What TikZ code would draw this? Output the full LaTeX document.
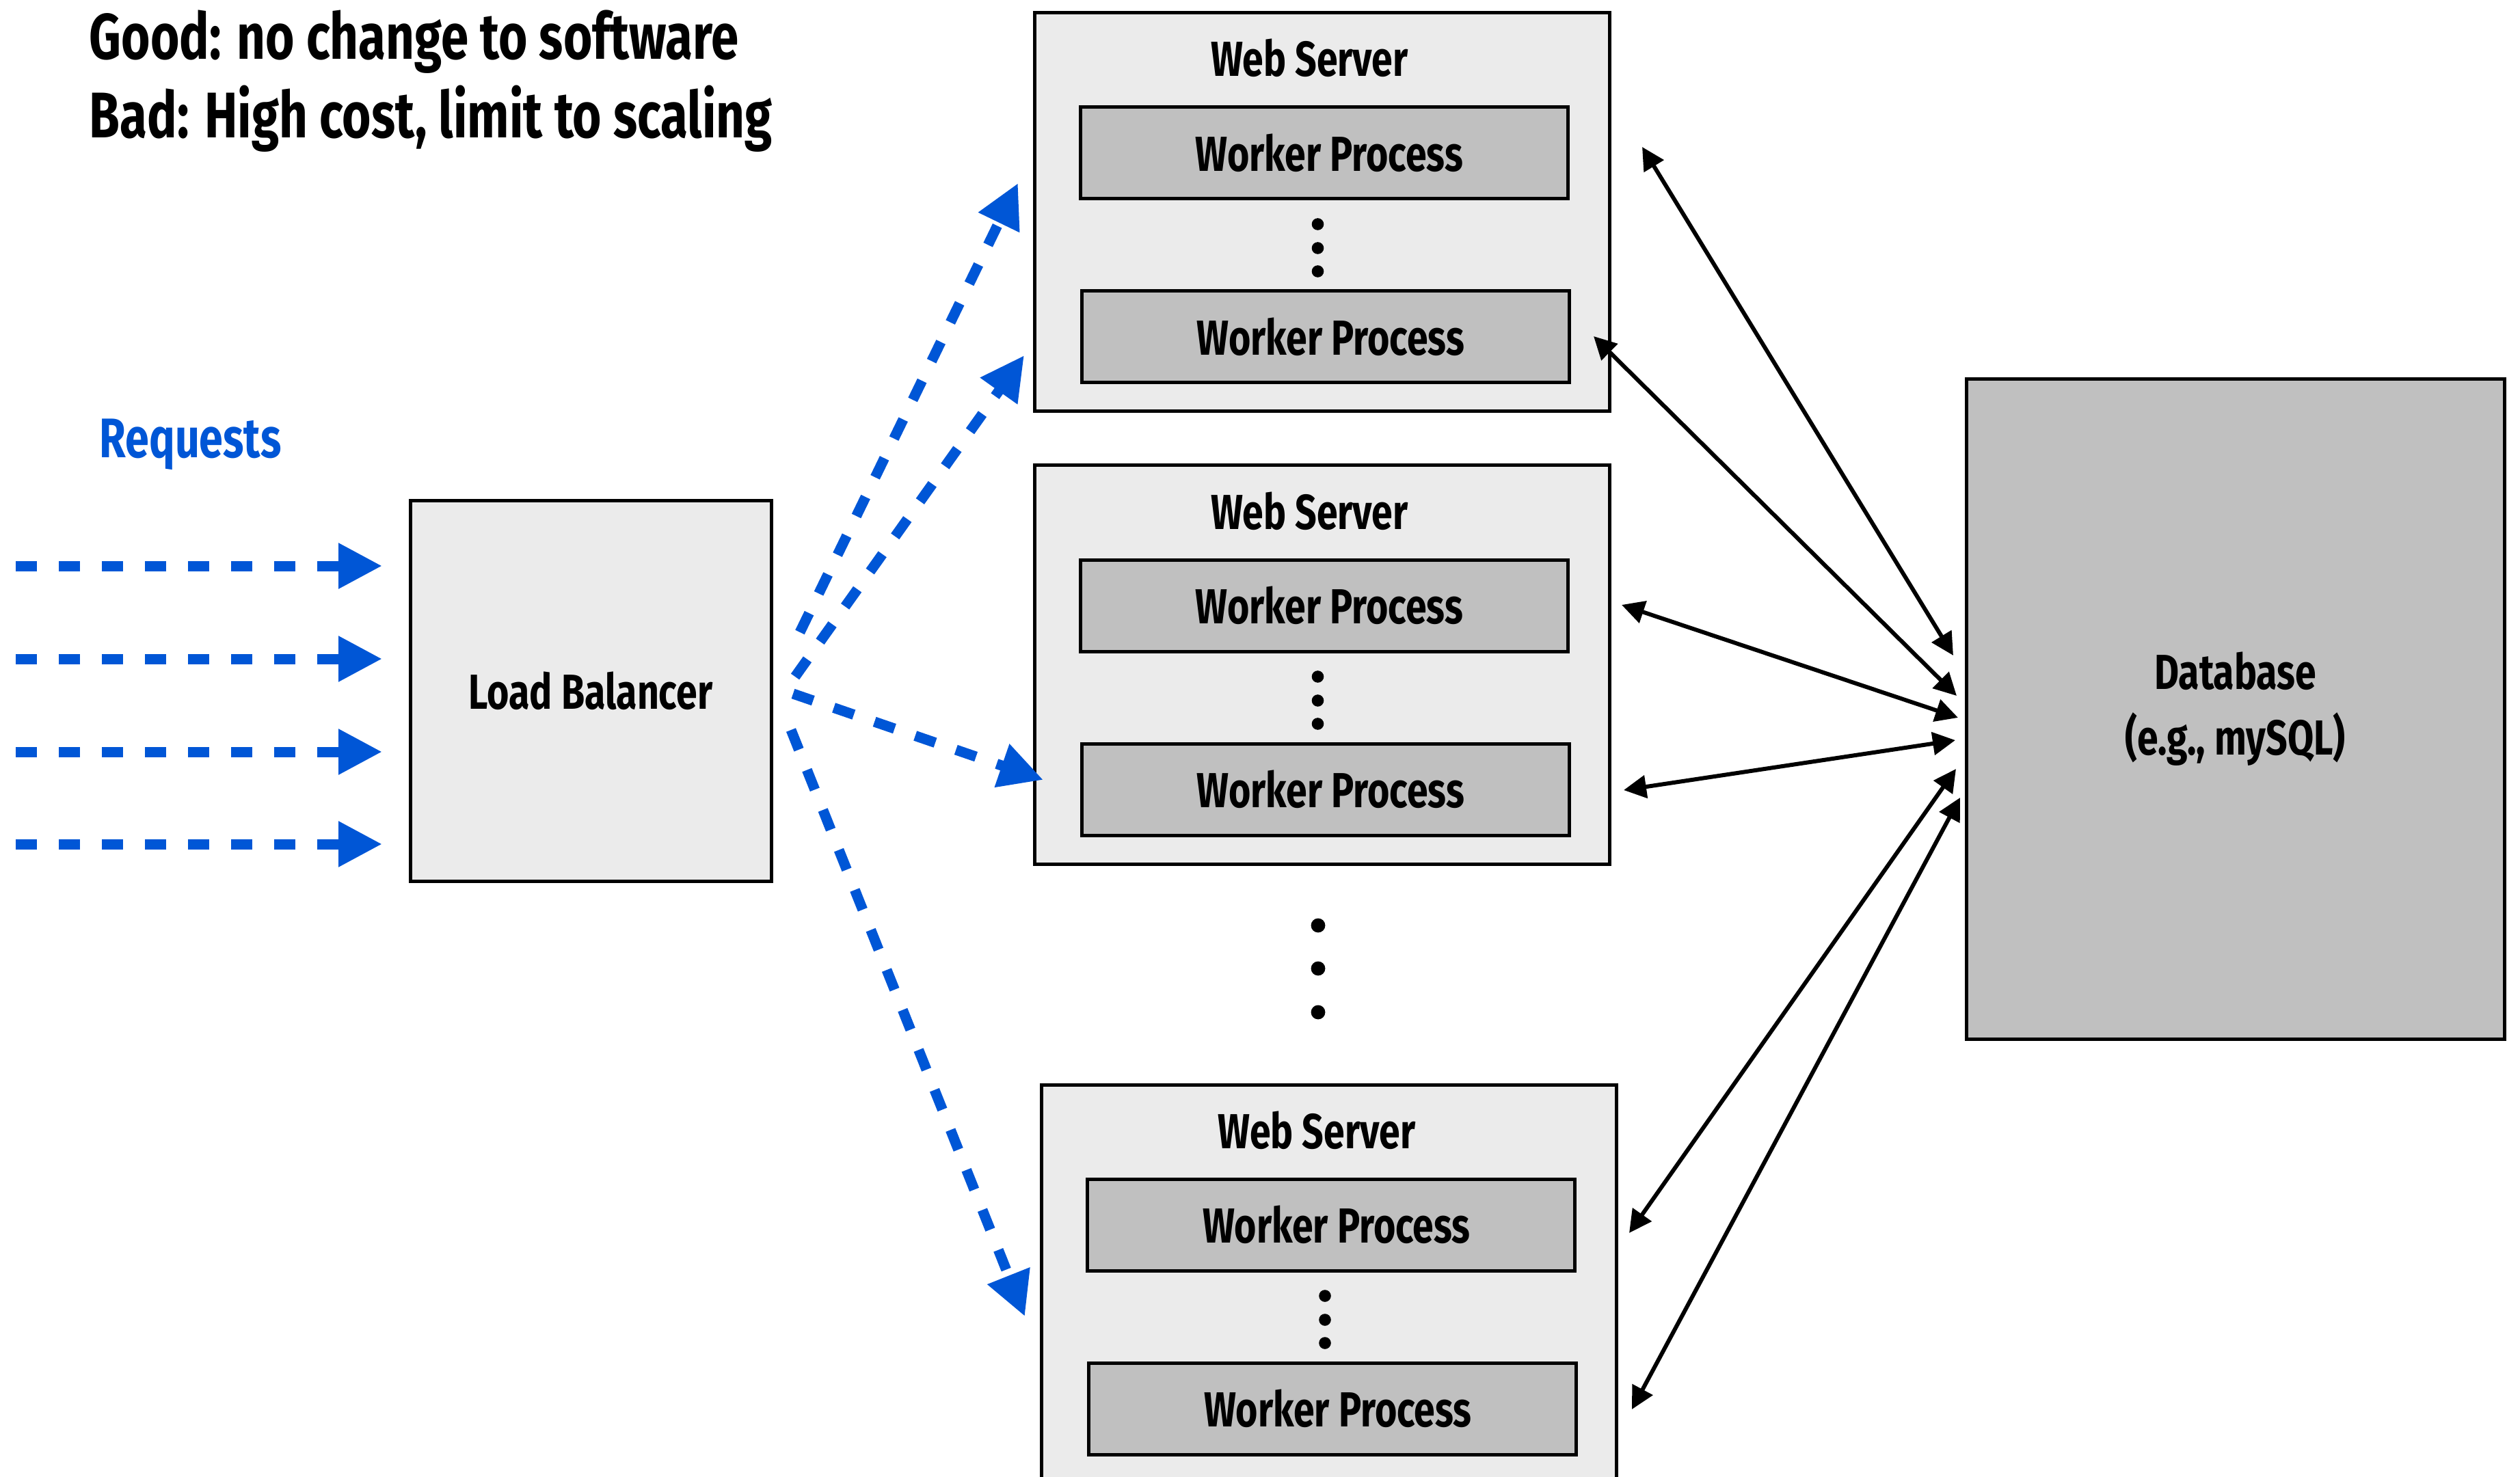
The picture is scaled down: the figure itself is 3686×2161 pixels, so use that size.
\documentclass[tikz,border=0pt]{standalone}
\usepackage{fontspec}
\setmainfont{Fira Sans}[FakeStretch=0.77]
\usetikzlibrary{arrows.meta}
\definecolor{reqblue}{RGB}{0,86,214}
\definecolor{lightbox}{RGB}{235,235,235}
\definecolor{darkbox}{RGB}{192,192,192}
\begin{document}
\begin{tikzpicture}[x=0.25pt,y=-0.25pt,
  lbl/.style={font=\bfseries\fontsize{18pt}{24pt}\selectfont, inner sep=0pt},
  server/.style={draw=black, line width=1.25pt, fill=lightbox, minimum width=210.25pt, minimum height=145.75pt, inner sep=0pt},
  worker/.style={draw=black, line width=1.25pt, fill=darkbox, minimum width=178.25pt, minimum height=33.5pt, inner sep=0pt, font=\bfseries\fontsize{18pt}{24pt}\selectfont},
  plainbox/.style={draw=black, line width=1.25pt, inner sep=0pt, font=\bfseries\fontsize{18pt}{24pt}\selectfont, align=center},
  reqarrow/.style={draw=reqblue, line width=3.75pt, dash pattern=on 7.75pt off 8pt, -{Triangle[length=16pt,width=15.75pt]}},
  dbarrow/.style={draw=black, line width=1.5pt, {Triangle[length=8.25pt,width=8.25pt]}-{Triangle[length=8.25pt,width=8.25pt]}},
  dotmark/.style={fill=black}
]
\useasboundingbox (0,0) rectangle (3686,2161);
\clip (0,0) rectangle (3686,2161);
\fill[white] (0,0) rectangle (3686,2161);

% headings
\node[anchor=base west, inner sep=0pt, font=\bfseries\fontsize{23.6pt}{28pt}\selectfont] (good) at (130,87) {Good: no change to software};
\node[anchor=base west, inner sep=0pt, font=\bfseries\fontsize{23.6pt}{28pt}\selectfont] (bad) at (130,202) {Bad: High cost, limit to scaling};
\node[anchor=base west, inner sep=0pt, text=reqblue, font=\bfseries\fontsize{20.4pt}{24pt}\selectfont] (reqtxt) at (145,670) {Requests};

% load balancer
\node[plainbox, fill=lightbox, minimum width=132pt, minimum height=139pt] (lb) at (864,1011) {Load Balancer};

% database
\node[plainbox, fill=darkbox, minimum width=196.75pt, minimum height=241.25pt] (db) at (3269.5,1037.5) {Database\\(e.g., mySQL)};

% web servers
\foreach \i/\cx/\ty in {1/1933.5/19, 2/1933.5/681, 3/1944/1587}{
  \node[server] (ws\i) at (\cx,\ty+291.5) {};
  \node[lbl, anchor=base] (wst\i) at (\cx-18,\ty+93) {Web Server};
  \node[worker] (wpa\i) at (\cx+3,\ty+205) {\hspace*{4pt}Worker Process};
  \node[worker] (wpb\i) at (\cx+5,\ty+474) {\hspace*{4pt}Worker Process};
  \fill[dotmark] (\cx-6,\ty+309) circle[radius=2.2pt];
  \fill[dotmark] (\cx-6,\ty+344) circle[radius=2.2pt];
  \fill[dotmark] (\cx-6,\ty+378) circle[radius=2.2pt];
}
% dots between servers
\fill[dotmark] (1928,1354) circle[radius=2.6pt];
\fill[dotmark] (1928,1417) circle[radius=2.6pt];
\fill[dotmark] (1928,1481) circle[radius=2.6pt];

% request arrows
\foreach \k/\yy in {1/828, 2/964, 3/1100, 4/1235}{
  \coordinate (rs\k) at (23,\yy);
  \coordinate (re\k) at (559,\yy);
  \draw[reqarrow] (rs\k) -- (re\k);
}

% load balancer to servers
\coordinate (lbA) at (1170,925);  \coordinate (tA) at (1489,268);
\coordinate (lbB) at (1163,990);  \coordinate (tB) at (1498,520);
\coordinate (lbC) at (1160,1015); \coordinate (tC) at (1526,1141);
\coordinate (lbD) at (1157,1068); \coordinate (tD) at (1499,1926);
\draw[reqarrow] (lbA) -- (tA);
\draw[reqarrow] (lbB) -- (tB);
\draw[reqarrow] (lbC) -- (tC);
\draw[reqarrow] (lbD) -- (tD);

% servers to database
\coordinate (s1) at (2402,215);  \coordinate (d1) at (2857,959);
\coordinate (s2) at (2331,492);  \coordinate (d2) at (2862,1018);
\coordinate (s3) at (2372,885);  \coordinate (d3) at (2864,1050);
\coordinate (s4) at (2375,1156); \coordinate (d4) at (2860,1083);
\coordinate (s5) at (2383,1804); \coordinate (d5) at (2861,1125);
\coordinate (s6) at (2387,2062); \coordinate (d6) at (2867,1167);
\foreach \k in {1,...,6}{ \draw[dbarrow] (s\k) -- (d\k); }
\end{tikzpicture}
\end{document}
